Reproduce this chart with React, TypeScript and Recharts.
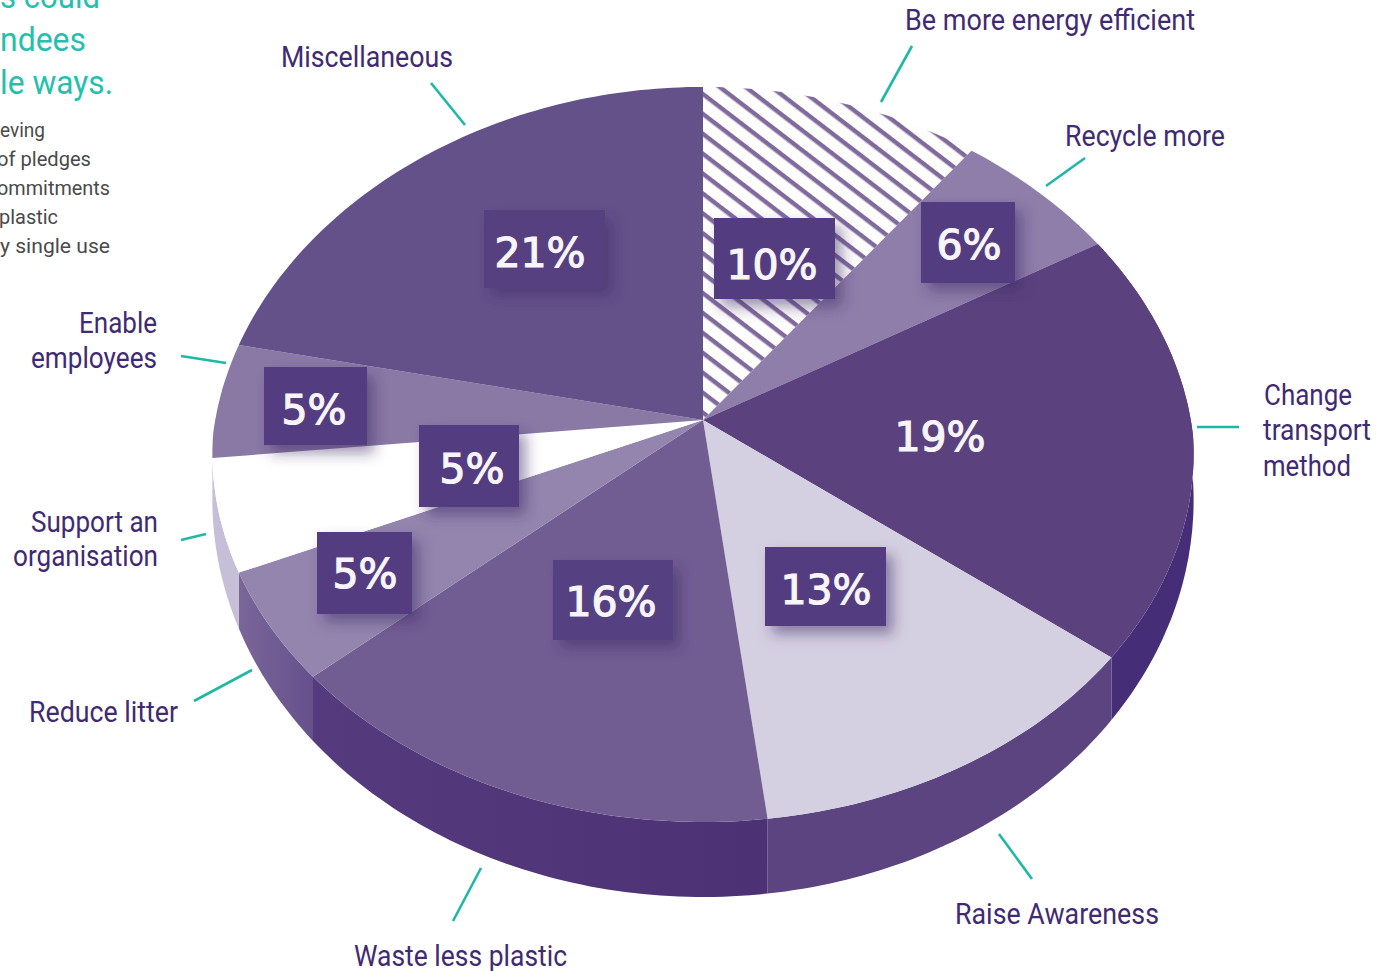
import React from 'react';
import { PieChart, Pie, Cell } from 'recharts';

// Pledge categories, clockwise from twelve o'clock.
const categories = [
  'Be more energy efficient',
  'Recycle more',
  'Change transport method',
  'Raise Awareness',
  'Waste less plastic',
  'Reduce litter',
  'Support an organisation',
  'Enable employees',
  'Miscellaneous',
];
const shares = [10, 6, 19, 13, 16, 5, 5, 5, 21];
const categoryLines = [
  ['Be more energy efficient'],
  ['Recycle more'],
  ['Change', 'transport', 'method'],
  ['Raise Awareness'],
  ['Waste less plastic'],
  ['Reduce litter'],
  ['Support an', 'organisation'],
  ['Enable', 'employees'],
  ['Miscellaneous'],
];
const rows = categories.map((name, i) => ({ name, value: shares[i] }));

const INK = '#3f2a74';
const TEAL = '#1fb8a6';
const topFills = ['url(#hatch)', '#8f7daa', '#5b427f', '#d5d0e1', '#725d92', '#9385ae', '#ffffff', '#8a78a5', '#65518a'];
const wallFills = [null, null, '#452e77', '#5b4480', 'url(#wallWaste)', 'url(#wallLitter)', '#c6bfd8', null, null];
const boxFills = ['#533c80', '#533c80', '#5b427f', '#533c80', '#553f82', '#533c80', '#533c80', '#533c80', '#56407f'];

// Layout of the value boxes: [left, top, width, height, text x, text y]
const boxLayout = [
  [714, 218, 121, 81, 772, 265],
  [921, 202, 94, 81, 969, 245],
  [880, 400, 118, 76, 940, 437],
  [765, 547, 121, 79, 826, 590],
  [553, 560, 120, 80, 611, 602],
  [317, 532, 95, 82, 365, 574],
  [419, 425, 100, 82, 472, 469],
  [264, 367, 103, 78, 314, 410],
  [484, 210, 121, 78, 540, 253],
];
// Callout text lines: [left, baseline, width] for each line.
const calloutText = [
  [[905, 30, 290]],
  [[1065, 146, 160]],
  [[1264, 405, 88], [1263, 440, 108], [1263, 476, 88]],
  [[955, 924, 204]],
  [[354, 966, 213]],
  [[29, 722, 149]],
  [[31, 532, 127], [13, 566, 145]],
  [[79, 333, 78], [31, 368, 126]],
  [[281, 67, 172]],
];
// Leader lines: [x1, y1, x2, y2]
const leaders = [
  [912, 46, 881, 102],
  [1085, 158, 1046, 186],
  [1197, 427, 1239, 427],
  [999, 834, 1032, 879],
  [481, 868, 453, 921],
  [194, 701, 252, 670],
  [181, 540, 206, 534],
  [181, 356, 226, 363],
  [431, 83, 465, 125],
];
const headingLines = [
  ['s could', 0, 8, 100],
  ['ndees', 0, 51, 86],
  ['le ways.', 0, 94, 113],
];
const noteLines = [
  ['eving', 0, 137, 45],
  ['of pledges', -3, 166, 94],
  ['ommitments', -3, 195, 113],
  ['plastic', -1, 224, 59],
  ['y single use', 0, 253, 110],
];

// Perspective tilt of the disc; the far half narrows faster than the near half.
const RY = 366.5;
const TILT_Y = -0.053;
const TILT_X_FAR = -0.09;
const TILT_X_NEAR = -0.05;
const APEX_LIFT = 15;
const FONT = 'Roboto, sans-serif';

const rimPoint = (cx: number, cy: number, r: number, deg: number) => {
  const a = (deg * Math.PI) / 180;
  const u = Math.cos(a);
  const v = -Math.sin(a);
  const dx = 1 + (v < 0 ? TILT_X_FAR : TILT_X_NEAR) * v;
  const dy = 1 + TILT_Y * v;
  return { x: cx + (r * u) / dx, y: cy + (RY * v) / dy, v };
};

const arcPoints = (cx: number, cy: number, r: number, from: number, to: number) => {
  const n = Math.max(2, Math.ceil(Math.abs(to - from)));
  const pts = [];
  for (let i = 0; i <= n; i++) pts.push(rimPoint(cx, cy, r, from + ((to - from) * i) / n));
  return pts;
};

const wallDepth = (v: number) => 45 + 30 * v;

const FaceShape = (props: any) => {
  const { cx, cy, outerRadius, startAngle, endAngle, index } = props;
  const pts = arcPoints(cx, cy, outerRadius, startAngle, endAngle);
  const d =
    `M${cx},${cy - APEX_LIFT}` + pts.map((p) => `L${p.x.toFixed(1)},${p.y.toFixed(1)}`).join('') + 'Z';
  return <path d={d} fill={topFills[index]} stroke="none" />;
};

const WallShape = (props: any) => {
  const { cx, cy, outerRadius, startAngle, endAngle, index } = props;
  const fill = wallFills[index];
  if (!fill) return null;
  const pts = arcPoints(cx, cy, outerRadius, startAngle, endAngle);
  const lower = [...pts].reverse().map((p) => ({ x: p.x, y: p.y + wallDepth(p.v) }));
  const d = [...pts, ...lower]
    .map((p, i) => `${i ? 'L' : 'M'}${p.x.toFixed(1)},${p.y.toFixed(1)}`)
    .join('') + 'Z';
  return <path d={d} fill={fill} stroke="none" />;
};

const renderLabel = (props: any) => {
  const { index, value } = props;
  const [x, y, w, h, tx, ty] = boxLayout[index];
  const leader = leaders[index];
  return (
    <g key={index}>
      <rect x={x} y={y} width={w} height={h} fill={boxFills[index]} filter={index === 2 ? undefined : 'url(#boxShadow)'} />
      <text
        x={tx}
        y={ty}
        textAnchor="middle"
        dominantBaseline="central"
        fontFamily="'DejaVu Sans', sans-serif"
        fontSize={41}
        fill="#f7f5fa"
        stroke="#f7f5fa"
        strokeWidth={1.2}
      >
        {`${value}%`}
      </text>
      <line x1={leader[0]} y1={leader[1]} x2={leader[2]} y2={leader[3]} stroke={TEAL} strokeWidth={2.6} />
      {categoryLines[index].map((line, i) => {
        const [lx, ly, lw] = calloutText[index][i];
        return (
          <text key={line} x={lx} y={ly} fontFamily={FONT} fontSize={29} fill={INK} textLength={lw} lengthAdjust="spacingAndGlyphs">
            {line}
          </text>
        );
      })}
    </g>
  );
};

export default function App() {
  return (
    <div style={{ position: 'fixed', left: 0, top: 0, width: 1389, height: 971, background: '#fff' }}>
      <PieChart width={1389} height={971} margin={{ top: 0, right: 0, bottom: 0, left: 0 }}>
        <defs>
          <pattern id="hatch" width="15.8" height="15.8" patternUnits="userSpaceOnUse" patternTransform="translate(703 410) rotate(37.5)">
            <rect width="15.8" height="15.8" fill="#fdfdfb" />
            <rect width="15.8" height="4.4" fill="#7f6a9e" />
          </pattern>
          <linearGradient id="wallWaste" x1="0" y1="0" x2="1" y2="0">
            <stop offset="0" stopColor="#553b7d" />
            <stop offset="1" stopColor="#4c3174" />
          </linearGradient>
          <linearGradient id="wallLitter" x1="0" y1="0" x2="1" y2="0">
            <stop offset="0" stopColor="#7a6699" />
            <stop offset="1" stopColor="#65508c" />
          </linearGradient>
          <filter id="boxShadow" x="-30%" y="-30%" width="170%" height="170%">
            <feDropShadow dx="7" dy="8" stdDeviation="7" floodColor="#3b2a66" floodOpacity="0.5" />
          </filter>
        </defs>
        <Pie
          data={rows}
          dataKey="value"
          nameKey="name"
          cx={703}
          cy={435}
          outerRadius={490}
          startAngle={90}
          endAngle={-270}
          stroke="none"
          isAnimationActive={false}
          shape={WallShape}
          label={false}
          labelLine={false}
        />
        <Pie
          data={rows}
          dataKey="value"
          nameKey="name"
          cx={703}
          cy={435}
          outerRadius={490}
          startAngle={90}
          endAngle={-270}
          stroke="none"
          isAnimationActive={false}
          shape={FaceShape}
          label={renderLabel}
          labelLine={false}
        >
          {rows.map((r, i) => (
            <Cell key={r.name} fill={topFills[i]} />
          ))}
        </Pie>
        {headingLines.map(([t, x, y, w]: any) => (
          <text key={t} x={x} y={y} fontFamily={FONT} fontSize={34} fill="#25bfae" textLength={w} lengthAdjust="spacingAndGlyphs">
            {t}
          </text>
        ))}
        {noteLines.map(([t, x, y, w]: any) => (
          <text key={t} x={x} y={y} fontFamily={FONT} fontSize={21} fill="#4a4a4a" textLength={w} lengthAdjust="spacingAndGlyphs">
            {t}
          </text>
        ))}
      </PieChart>
    </div>
  );
}
